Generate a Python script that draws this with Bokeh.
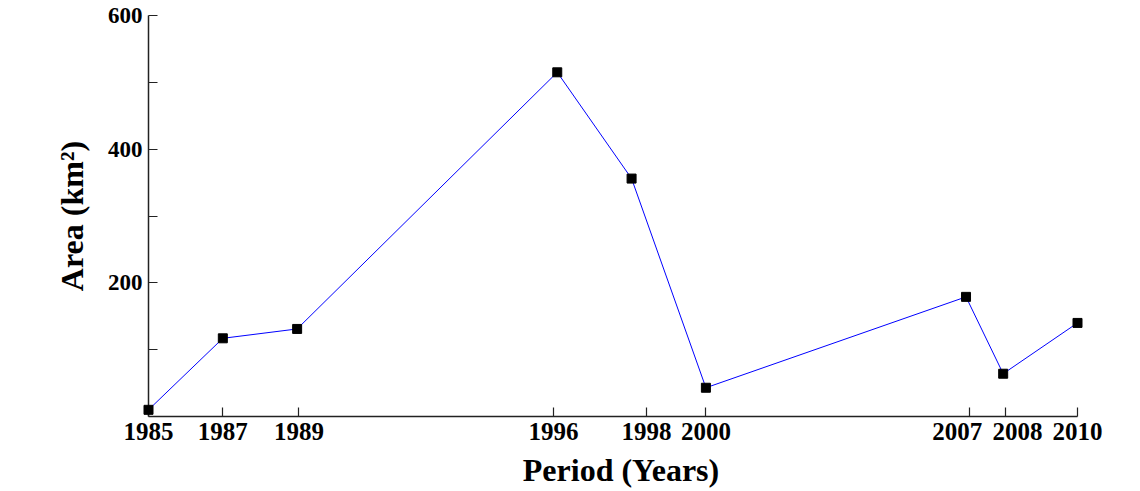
from bokeh.plotting import figure
from bokeh.models import FixedTicker, Range1d
from bokeh.embed import file_html
from bokeh.resources import INLINE

# data
years = [1985, 1987, 1989, 1996, 1998, 2000, 2007, 2008, 2010]
area = [10, 117, 131, 515, 356, 43, 179, 64, 140]

# x tick positions (as drawn in the reference) and labels
x_ticks = [1985, 1987, 1989.05, 1995.9, 1998.4, 2000, 2007.1, 2008.05, 2010]
# em spaces nudge the crowded 2007/2008 labels apart, as in the reference
x_tick_labels = ["1985", "1987", "1989", "1996", "1998", "2000",
                 "2007\u2003", "\u20032008", "2010"]
y_ticks = [100, 200, 300, 400, 500, 600]
y_tick_labels = ["", "200", "", "400", "", "600"]

FONT = "Liberation Serif"

p = figure(frame_width=929, frame_height=401,
           x_range=Range1d(1985, 2010), y_range=Range1d(0, 600),
           output_backend="svg", toolbar_location=None,
           min_border_left=148, min_border_top=15, min_border_right=35,
           min_border_bottom=70)

p.line(years, area, line_color="#0000ff", line_width=1)
p.scatter(years, area, marker="square", size=9, fill_color="black",
          line_color="black", level="overlay")

p.xgrid.visible = False
p.ygrid.visible = False
p.outline_line_color = None

p.xaxis.ticker = FixedTicker(ticks=x_ticks, minor_ticks=[])
p.xaxis.major_label_overrides = {t: l for t, l in zip(x_ticks, x_tick_labels)}
p.yaxis.ticker = FixedTicker(ticks=y_ticks, minor_ticks=[])
p.yaxis.major_label_overrides = {t: l for t, l in zip(y_ticks, y_tick_labels)}

for ax in (p.xaxis[0], p.yaxis[0]):
    ax.axis_line_color = "#222222"
    ax.axis_line_width = 1.5
    ax.major_tick_line_color = "#222222"
    ax.major_tick_line_width = 1.2
    ax.major_tick_in = 9
    ax.major_tick_out = 0
    ax.minor_tick_in = 0
    ax.minor_tick_out = 0
    ax.major_label_text_font = FONT
    ax.major_label_text_font_style = "bold"
    ax.major_label_text_color = "black"
    ax.axis_label_text_font = FONT
    ax.axis_label_text_font_style = "bold"
    ax.axis_label_text_color = "black"
    ax.axis_label_text_font_size = "32px"

p.xaxis.major_label_text_font_size = "25px"
p.yaxis.major_label_text_font_size = "23px"
p.xaxis.major_label_standoff = 1
p.yaxis.major_label_standoff = 6
p.xaxis.axis_label = "\u2002Period (Years)"
p.yaxis.axis_label = "Area (km²)"
p.xaxis.axis_label_standoff = 4
p.yaxis.axis_label_standoff = 15

open("out.html", "w").write(file_html(p, INLINE))
